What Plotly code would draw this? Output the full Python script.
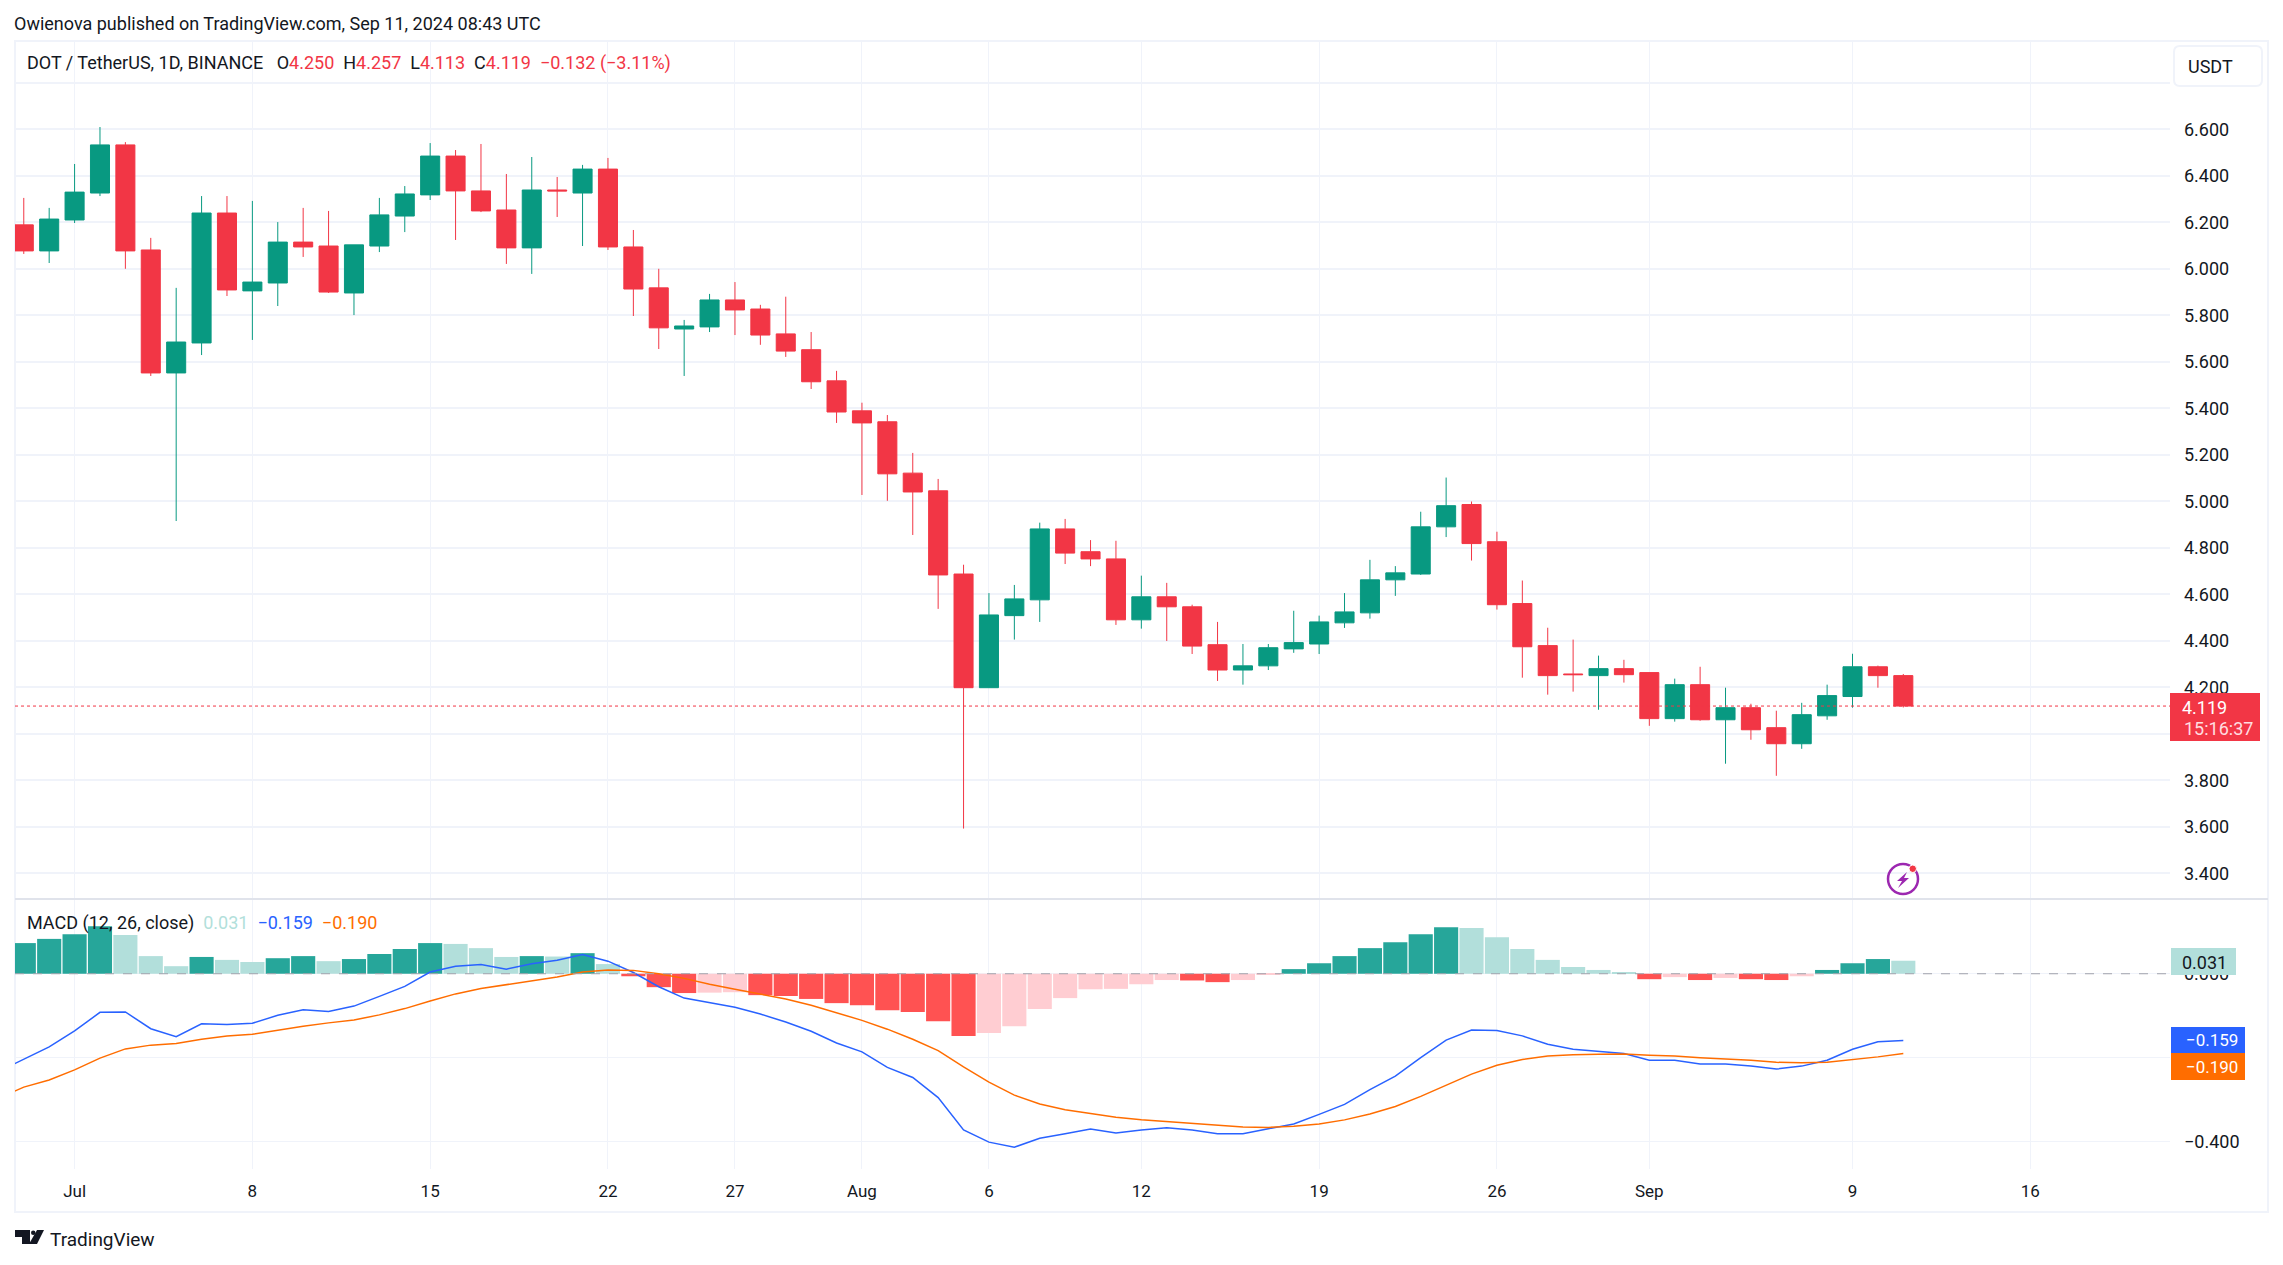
import plotly.graph_objects as go
from datetime import date, timedelta

W, H = 2283, 1265
FONT = "Roboto"

# ---- data ----
first_day = date(2024, 6, 29)
line_first_day = date(2024, 6, 28)
opens = [6.189,6.077,6.210,6.326,6.533,6.081,5.552,5.681,6.240,5.905,5.939,6.115,6.098,5.896,6.098,6.227,6.318,6.485,6.335,6.253,
         6.090,6.339,6.326,6.429,6.094,5.918,5.741,5.750,5.866,5.827,5.720,5.652,5.518,5.389,5.342,5.121,5.045,4.687,4.198,4.508,
         4.576,4.881,4.783,4.752,4.490,4.589,4.546,4.383,4.274,4.292,4.365,4.386,4.477,4.520,4.662,4.687,4.890,4.986,4.826,4.560,
         4.379,4.257,4.250,4.280,4.263,4.065,4.211,4.060,4.112,4.026,3.957,4.077,4.160,4.288,4.250]
highs = [6.305,6.262,6.451,6.610,6.545,6.133,5.918,6.313,6.313,6.292,6.201,6.262,6.249,6.103,6.305,6.356,6.541,6.511,6.537,6.408,
         6.481,6.395,6.447,6.477,6.167,6.000,5.780,5.892,5.943,5.845,5.880,5.728,5.561,5.424,5.371,5.208,5.096,4.727,4.605,4.640,
         4.908,4.924,4.833,4.830,4.680,4.649,4.555,4.481,4.386,4.386,4.529,4.508,4.605,4.748,4.721,4.955,5.102,4.999,4.869,4.659,
         4.456,4.405,4.336,4.318,4.263,4.237,4.288,4.198,4.129,4.099,4.133,4.211,4.344,4.293,4.257]
lows = [6.064,6.025,6.197,6.313,6.000,5.539,4.915,5.629,5.883,5.694,5.840,6.051,5.896,5.801,6.072,6.158,6.296,6.124,6.244,6.021,
        5.978,6.223,6.098,6.081,5.797,5.655,5.539,5.728,5.715,5.673,5.621,5.483,5.337,5.027,5.002,4.855,4.537,3.592,4.198,4.405,
        4.481,4.730,4.721,4.468,4.452,4.399,4.343,4.227,4.211,4.274,4.348,4.343,4.455,4.495,4.593,4.683,4.846,4.745,4.534,4.241,
        4.168,4.181,4.103,4.220,4.034,4.052,4.056,3.871,3.974,3.819,3.935,4.060,4.112,4.198,4.113]
closes = [6.077,6.214,6.330,6.533,6.077,5.552,5.685,6.240,5.909,5.943,6.115,6.094,5.900,6.103,6.232,6.322,6.485,6.335,6.249,6.090,
          6.339,6.335,6.429,6.094,5.913,5.746,5.754,5.866,5.823,5.715,5.646,5.514,5.384,5.337,5.118,5.040,4.683,4.198,4.511,4.580,
          4.881,4.777,4.752,4.490,4.589,4.546,4.377,4.274,4.292,4.370,4.392,4.481,4.524,4.662,4.692,4.890,4.981,4.818,4.555,4.374,
          4.250,4.254,4.280,4.254,4.065,4.211,4.060,4.112,4.017,3.957,4.082,4.164,4.288,4.250,4.119]
hist = [.073,.083,.094,.113,.092,.042,.018,.040,.033,.028,.037,.042,.030,.035,.047,.059,.073,.071,.061,.040,
        .042,.041,.049,.023,-.006,-.032,-.046,-.045,-.044,-.051,-.053,-.060,-.070,-.075,-.087,-.091,-.113,-.148,-.141,-.125,
        -.084,-.058,-.037,-.036,-.025,-.015,-.016,-.020,-.015,-.003,.011,.025,.042,.061,.075,.094,.111,.109,.087,.059,
        .033,.016,.009,.004,-.013,-.008,-.015,-.010,-.013,-.015,-.006,.009,.025,.035,.031]
macd = [-.233,-.204,-.174,-.136,-.092,-.091,-.131,-.150,-.119,-.121,-.118,-.099,-.086,-.090,-.077,-.054,-.030,.004,.018,.022,.011,
        .024,.032,.046,.030,.003,-.031,-.058,-.069,-.080,-.096,-.115,-.137,-.165,-.186,-.223,-.247,-.295,-.372,-.401,-.413,
        -.392,-.381,-.370,-.379,-.372,-.367,-.372,-.381,-.381,-.369,-.358,-.335,-.311,-.276,-.244,-.200,-.158,-.134,-.135,-.148,
        -.168,-.180,-.185,-.190,-.206,-.206,-.215,-.215,-.220,-.227,-.220,-.206,-.180,-.162,-.159]
signal = [-.297,-.270,-.253,-.229,-.201,-.179,-.170,-.166,-.156,-.148,-.144,-.134,-.125,-.117,-.110,-.098,-.083,-.065,-.048,-.035,-.026,
          -.017,-.008,.004,.009,.008,0.0,-.011,-.025,-.037,-.048,-.060,-.075,-.093,-.111,-.132,-.156,-.183,-.222,-.258,-.289,
          -.310,-.324,-.333,-.342,-.348,-.352,-.356,-.360,-.365,-.366,-.363,-.358,-.348,-.334,-.316,-.292,-.265,-.239,-.218,-.204,
          -.196,-.193,-.192,-.191,-.194,-.196,-.200,-.203,-.206,-.211,-.212,-.211,-.205,-.198,-.190]
price_ticks = [3.4,3.6,3.8,4.0,4.2,4.4,4.6,4.8,5.0,5.2,5.4,5.6,5.8,6.0,6.2,6.4,6.6,6.8]
price_tick_text = ["3.400","3.600","3.800","4.000","4.200","4.400","4.600","4.800","5.000","5.200",
                   "5.400","5.600","5.800","6.000","6.200","6.400","6.600",""]
macd_ticks = [0.0,-0.2,-0.4]
macd_tick_text = ["0.000","","−0.400"]
date_ticks = ["2024-07-01","2024-07-08","2024-07-15","2024-07-22","2024-07-27","2024-08-01","2024-08-06",
              "2024-08-12","2024-08-19","2024-08-26","2024-09-01","2024-09-09","2024-09-16"]
date_labels = ["Jul","8","15","22","27","Aug","6","12","19","26","Sep","9","16"]
last_close = closes[-1]

days = [first_day + timedelta(days=i) for i in range(len(closes))]
line_days = [line_first_day + timedelta(days=i) for i in range(len(macd))]

GREEN, RED = "#089981", "#F23645"
GRID = "#F0F3FA"
TXT = "#131722"

def X(px): return px / W
def Y(py): return 1 - py / H

def hist_colour(i):
    v = hist[i]
    rising = i == 0 or v >= hist[i - 1]
    if v >= 0:
        return "#26A69A" if rising else "#B2DFDB"
    return "#FFCDD2" if rising else "#FF5252"

fig = go.Figure()
fig.add_trace(go.Candlestick(
    x=days, open=opens, high=highs, low=lows, close=closes, xaxis="x", yaxis="y",
    increasing=dict(line=dict(color=GREEN, width=1), fillcolor=GREEN),
    decreasing=dict(line=dict(color=RED, width=1), fillcolor=RED),
    whiskerwidth=0, showlegend=False))
fig.add_trace(go.Bar(x=days, y=hist, xaxis="x2", yaxis="y2",
                     marker=dict(color=[hist_colour(i) for i in range(len(hist))], line=dict(width=0)),
                     showlegend=False))
fig.add_trace(go.Scatter(x=line_days, y=macd, mode="lines", xaxis="x2", yaxis="y2",
                         line=dict(color="#2962FF", width=1.5), showlegend=False))
fig.add_trace(go.Scatter(x=line_days, y=signal, mode="lines", xaxis="x2", yaxis="y2",
                         line=dict(color="#FF6D00", width=1.5), showlegend=False))

x_range = ["2024-06-28 15:42", "2024-09-21 12:00"]
xdom = [X(15), X(2170)]
common_x = dict(type="date", range=x_range, domain=xdom, tickmode="array", tickvals=date_ticks,
                showgrid=True, gridcolor=GRID, gridwidth=1, zeroline=False, showline=False, ticks="")

shapes = [
    # frame and pane separator
    dict(type="rect", xref="paper", yref="paper", x0=X(15), x1=X(2268), y0=Y(41), y1=Y(1212),
         line=dict(color="#F0F3FA", width=2), layer="below"),
    dict(type="line", xref="paper", yref="paper", x0=X(15), x1=X(2268), y0=Y(899), y1=Y(899),
         line=dict(color="#E0E3EB", width=2)),
    # last price line, zero line
    dict(type="line", xref="paper", yref="y", x0=X(15), x1=X(2170), y0=last_close, y1=last_close,
         line=dict(color=RED, width=1, dash="dot")),
    dict(type="line", xref="paper", yref="y2", x0=X(15), x1=X(2170), y0=0, y1=0,
         line=dict(color="#A0A3AC", width=1, dash="dash")),
    # price / MACD value boxes
    dict(type="rect", xref="paper", yref="paper", x0=X(2170), x1=X(2260), y0=Y(693), y1=Y(741),
         fillcolor=RED, line=dict(width=0)),
    dict(type="rect", xref="paper", yref="paper", x0=X(2171), x1=X(2236), y0=Y(948), y1=Y(975),
         fillcolor="#B2DFDB", line=dict(width=0)),
    dict(type="rect", xref="paper", yref="paper", x0=X(2171), x1=X(2245), y0=Y(1027), y1=Y(1053),
         fillcolor="#2962FF", line=dict(width=0)),
    dict(type="rect", xref="paper", yref="paper", x0=X(2171), x1=X(2245), y0=Y(1053), y1=Y(1080),
         fillcolor="#FF6D00", line=dict(width=0)),
    # USDT button
    dict(type="path", xref="paper", yref="paper", fillcolor="white", line=dict(color="#F0F3FA", width=2),
         path=f"M{X(2180)},{Y(46)} L{X(2256)},{Y(46)} Q{X(2262)},{Y(46)} {X(2262)},{Y(52)} L{X(2262)},{Y(80)} "
              f"Q{X(2262)},{Y(86)} {X(2256)},{Y(86)} L{X(2180)},{Y(86)} Q{X(2174)},{Y(86)} {X(2174)},{Y(80)} "
              f"L{X(2174)},{Y(52)} Q{X(2174)},{Y(46)} {X(2180)},{Y(46)} Z"),
    # purple lightning badge
    dict(type="circle", xref="paper", yref="paper", x0=X(1888), x1=X(1918), y0=Y(864), y1=Y(894),
         line=dict(color="#9C27B0", width=2.5)),
    dict(type="path", xref="paper", yref="paper", fillcolor="#9C27B0", line=dict(width=0),
         path=f"M{X(1907)},{Y(872)} L{X(1897)},{Y(881)} L{X(1902)},{Y(881)} L{X(1898)},{Y(888)} "
              f"L{X(1909)},{Y(878)} L{X(1904)},{Y(878)} Z"),
    dict(type="circle", xref="paper", yref="paper", x0=X(1909), x1=X(1916.5), y0=Y(865), y1=Y(872.5),
         fillcolor="#F23645", line=dict(color="white", width=1)),
    # TradingView logo
    dict(type="path", xref="paper", yref="paper", fillcolor="#131722", line=dict(width=0),
         path=f"M{X(15)},{Y(1230)} L{X(30)},{Y(1230)} L{X(30)},{Y(1244)} L{X(22)},{Y(1244)} L{X(22)},{Y(1237)} L{X(15)},{Y(1237)} Z"),
    dict(type="circle", xref="paper", yref="paper", x0=X(31), x1=X(35.5), y0=Y(1230.5), y1=Y(1235),
         fillcolor="#131722", line=dict(width=0)),
    dict(type="path", xref="paper", yref="paper", fillcolor="#131722", line=dict(width=0),
         path=f"M{X(37)},{Y(1230)} L{X(44)},{Y(1230)} L{X(37)},{Y(1244)} L{X(29)},{Y(1244)} Z"),
]

def note(px, py, text, size=17, color=TXT, anchor="left"):
    return dict(xref="paper", yref="paper", x=X(px), y=Y(py), text=text, showarrow=False,
                xanchor=anchor, yanchor="middle", align=anchor,
                font=dict(family=FONT, size=size, color=color))

def tinted(t, c): return f'<span style="color:{c}">{t}</span>'

annotations = [
    note(12, 23, "Owienova published on TradingView.com, Sep 11, 2024 08:43 UTC", 18),
    note(25, 63, "DOT / TetherUS, 1D, BINANCE  &nbsp;O" + tinted("4.250", RED) + " &nbsp;H" + tinted("4.257", RED)
         + " &nbsp;L" + tinted("4.113", RED) + " &nbsp;C" + tinted("4.119", RED)
         + " &nbsp;" + tinted("−0.132 (−3.11%)", RED), 18),
    note(25, 923, "MACD (12, 26, close) &nbsp;" + tinted("0.031", "#B2DFDB") + " &nbsp;"
         + tinted("−0.159", "#2962FF") + " &nbsp;" + tinted("−0.190", "#FF6D00"), 18),
    note(2186, 66, "USDT", 18),
    note(2180, 707, "4.119", 18, "white"),
    note(2182, 728, "15:16:37", 18, "#FFDDE0"),
    note(2180, 962, "0.031", 18, TXT),
    note(2184, 1040, "−0.159", 17, "white"),
    note(2184, 1067, "−0.190", 17, "white"),
    note(47.5, 1239, "TradingView", 19, "#131722"),
]

fig.update_layout(
    width=W, height=H, margin=dict(l=0, r=0, t=0, b=0, pad=0),
    paper_bgcolor="white", plot_bgcolor="white",
    font=dict(family=FONT, size=17, color=TXT),
    showlegend=False, hovermode=False, boxgap=0.25, boxgroupgap=0, bargap=0.05,
    xaxis=dict(common_x, anchor="y", showticklabels=False, rangeslider=dict(visible=False)),
    xaxis2=dict(common_x, anchor="y2", showticklabels=True, ticktext=date_labels,
                ticklabelstandoff=10, tickfont=dict(family=FONT, size=17, color=TXT)),
    yaxis=dict(domain=[Y(899), Y(41)], range=[3.289, 6.980], side="right", anchor="x",
               tickmode="array", tickvals=price_ticks, ticktext=price_tick_text,
               showgrid=True, gridcolor=GRID, gridwidth=2, zeroline=False, showline=False, ticks="",
               ticklabelstandoff=13, tickfont=dict(family=FONT, size=18, color=TXT)),
    yaxis2=dict(domain=[Y(1169), Y(899)], range=[-0.465, 0.178], side="right", anchor="x2",
                tickmode="array", tickvals=macd_ticks, ticktext=macd_tick_text,
                showgrid=True, gridcolor=GRID, gridwidth=1, zeroline=False, showline=False, ticks="",
                ticklabelstandoff=13, tickfont=dict(family=FONT, size=18, color=TXT)),
    shapes=shapes, annotations=annotations,
)

fig.write_html("out.html", config=dict(displayModeBar=False),
               post_script="document.body.style.margin='0';document.documentElement.style.overflow='hidden';")
